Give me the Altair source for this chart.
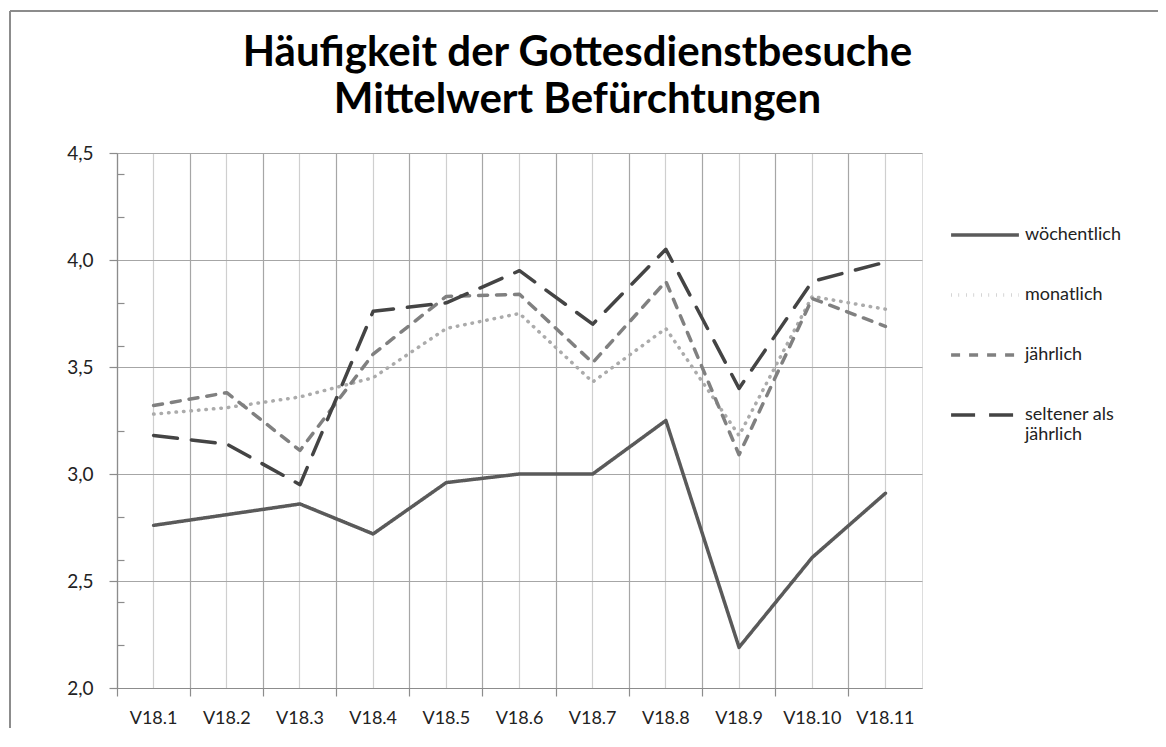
import altair as alt
import pandas as pd

categories = ["V18.1", "V18.2", "V18.3", "V18.4", "V18.5", "V18.6",
              "V18.7", "V18.8", "V18.9", "V18.10", "V18.11"]
series_names = ["wöchentlich", "monatlich", "jährlich", "seltener als jährlich"]
woechentlich = [2.76, 2.81, 2.86, 2.72, 2.96, 3.00, 3.00, 3.25, 2.19, 2.61, 2.91]
monatlich = [3.28, 3.31, 3.36, 3.45, 3.68, 3.75, 3.43, 3.68, 3.18, 3.83, 3.77]
jaehrlich = [3.32, 3.38, 3.11, 3.56, 3.83, 3.84, 3.52, 3.90, 3.09, 3.82, 3.69]
seltener = [3.18, 3.14, 2.95, 3.76, 3.80, 3.95, 3.70, 4.05, 3.40, 3.90, 3.99]
y_ticks = [2.0, 2.5, 3.0, 3.5, 4.0, 4.5]
y_minor_ticks = [2.2, 2.4, 2.6, 2.8, 3.2, 3.6, 3.8, 4.2, 4.4]

rows = []
for name, vals in zip(series_names, [woechentlich, monatlich, jaehrlich, seltener]):
    for c, v in zip(categories, vals):
        rows.append({"Kategorie": c, "Gruppe": name, "Wert": v})
df = pd.DataFrame(rows)

FONT = "Lato"
W, H = 805, 535
PAD = {"left": 109, "top": 145, "right": 236, "bottom": 40}

xscale = alt.Scale(type="band", domain=categories, paddingInner=0, paddingOuter=0)
yscale = alt.Scale(domain=[2.0, 4.5], nice=False, zero=False)

main_x_axis = alt.Axis(
    title=None, orient="bottom", bandPosition=0, grid=True, gridColor="#a6a6a6", gridWidth=1.2,
    ticks=True, tickSize=8, tickColor="#8c8c8c", tickWidth=1.2,
    domain=True, domainColor="#8c8c8c", domainWidth=1.2,
    labelPadding=13, labelAngle=0,
    labelFont=FONT, labelFontSize=18, labelColor="#222222",
)
center_x_axis = alt.Axis(
    title=None, orient="bottom", bandPosition=0.5, grid=True, gridColor="#cfcfcf", gridWidth=1.2,
    ticks=False, labels=False, domain=False,
)
main_y_axis = alt.Axis(
    title=None, orient="left", values=y_ticks, grid=True, gridColor="#a6a6a6", gridWidth=1.2,
    ticks=True, tickSize=8, tickColor="#8c8c8c", tickWidth=1.2,
    domain=True, domainColor="#8c8c8c", domainWidth=1.2,
    labelExpr="replace(format(datum.value, '.1f'), '.', ',')",
    labelPadding=16, labelFont=FONT, labelFontSize=19, labelColor="#222222",
)
minor_y_axis = alt.Axis(
    title=None, orient="left", values=y_minor_ticks, grid=False, labels=False, domain=False,
    ticks=True, tickSize=7, tickColor="#8c8c8c", tickWidth=1.2, offset=-7,
)

aux = alt.Chart(df).mark_line(opacity=0).encode(
    x=alt.X("Kategorie:N", sort=categories, scale=xscale, axis=center_x_axis),
    y=alt.Y("Wert:Q", scale=yscale, axis=minor_y_axis),
    detail="Gruppe:N",
)

lines = alt.Chart(df).mark_line(strokeWidth=3.5, strokeCap="round", strokeJoin="round").encode(
    x=alt.X("Kategorie:N", sort=categories, scale=xscale, axis=main_x_axis, bandPosition=0.5),
    y=alt.Y("Wert:Q", scale=yscale, axis=main_y_axis),
    color=alt.Color(
        "Gruppe:N", sort=series_names,
        scale=alt.Scale(domain=series_names, range=["#5a5a5a", "#ababab", "#808080", "#444444"]),
        legend=alt.Legend(
            title=None, orient="none", legendX=832, legendY=46,
            symbolType="stroke", symbolSize=4600, symbolStrokeWidth=3.5,
            labelFont=FONT, labelFontSize=18, labelColor="#222222",
            labelOffset=4, rowPadding=15, labelLimit=300,
            labelExpr="datum.label == 'seltener als jährlich' ? ['seltener als', 'jährlich'] : datum.label",
        ),
    ),
    strokeDash=alt.StrokeDash(
        "Gruppe:N", sort=series_names,
        scale=alt.Scale(domain=series_names, range=[[1, 0], [0.5, 7], [9, 9], [24, 14]]),
        legend=None,
    ),
)

frame_df = pd.DataFrame({"k": [0]})
frame_left = alt.Chart(frame_df).mark_rule(color="#8c8c8c", strokeWidth=2).encode(
    x=alt.value(-107), y=alt.value(-142), y2=alt.value(H + PAD["bottom"])
)
frame_top = alt.Chart(frame_df).mark_rule(color="#8c8c8c", strokeWidth=2).encode(
    x=alt.value(-107), x2=alt.value(W + PAD["right"]), y=alt.value(-142)
)

chart = alt.layer(aux, lines, frame_left, frame_top).resolve_axis(
    x="independent", y="independent"
).properties(
    width=W, height=H,
    padding=PAD,
    autosize=alt.AutoSizeParams(type="none"),
    title=alt.TitleParams(
        text=["Häufigkeit der Gottesdienstbesuche", "Mittelwert Befürchtungen"],
        font=FONT, fontSize=42, fontWeight="bold", color="#000000",
        anchor="middle", dx=58, offset=-112, lineHeight=47,
    ),
).configure_view(stroke="#8c8c8c", strokeWidth=1.2).configure(background="white")

chart.save("out.html", embed_options={"renderer": "svg", "actions": False})
